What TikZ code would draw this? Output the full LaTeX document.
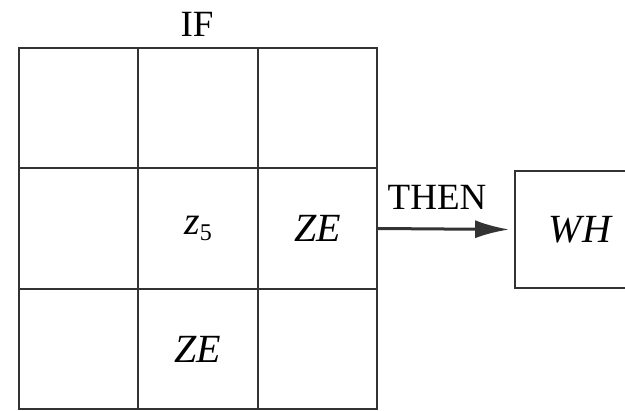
\documentclass[tikz,border=0pt]{standalone}
\usepackage{fontspec}
\setmainfont{Liberation Serif}
\usetikzlibrary{arrows.meta}
\begin{document}
\begin{tikzpicture}[x=1pt,y=-1pt,
  cell/.style={draw=black!80,line width=1.8pt,minimum width=119.5pt,minimum height=120.5pt,inner sep=0pt,font=\fontsize{40}{44}\selectfont\itshape},
  lab/.style={font=\fontsize{37}{40}\selectfont,inner sep=0pt},
  conn/.style={draw=black!80,line width=3pt,-{Latex[length=34pt,width=18pt]}}]
\useasboundingbox (0,0) rectangle (625,411);
\clip (0,0) rectangle (625,411);
\fill[white] (0,0) rectangle (625,411);
% grid
\node[cell] (c11) at (78.5,108) {};
\node[cell] (c12) at (198,108) {};
\node[cell] (c13) at (317.5,108) {};
\node[cell] (c21) at (78.5,228.5) {};
\node[cell] (c22) at (198,228.5) {\textit{z}\raisebox{-0.35ex}{\fontsize{24}{24}\selectfont\upshape 5}};
\node[cell] (c23) at (317.5,228.5) {ZE};
\node[cell] (c31) at (78.5,349) {};
\node[cell] (c32) at (198,349) {ZE};
\node[cell] (c33) at (317.5,349) {};
% labels
\node[lab] (if) at (197,24) {IF};
\node[lab] (then) at (437,197) {THEN};
% output box
\node[cell,minimum width=130pt,minimum height=117pt] (wh) at (580,229.5) {WH};
% connector
\draw[conn] (c23.east) -- ([xshift=-5pt]wh.west);
\end{tikzpicture}
\end{document}
